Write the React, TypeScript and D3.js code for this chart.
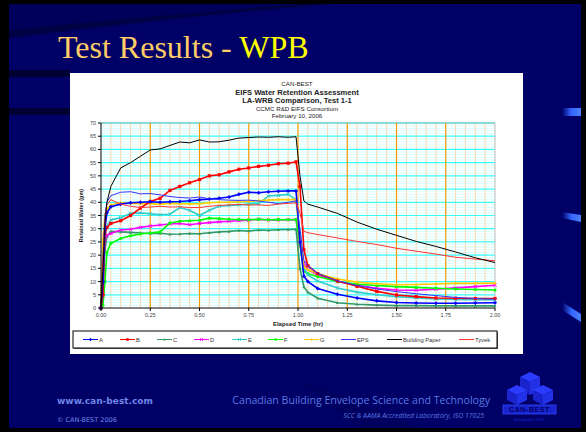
import React from "react";
import * as d3 from "d3";

const times = [0, 0.01, 0.02, 0.03, 0.05, 0.1, 0.15, 0.2, 0.25, 0.3, 0.35, 0.4, 0.45, 0.5, 0.55, 0.6, 0.65, 0.7, 0.75, 0.8, 0.85, 0.9, 0.95, 0.99, 1.01, 1.03, 1.05, 1.1, 1.2, 1.3, 1.4, 1.5, 1.6, 1.7, 1.8, 1.9, 2.0];

const seriesA = [0, 10, 30, 36, 38.3, 39.3, 39.8, 40, 40.2, 40, 40.2, 40.3, 40.6, 41, 41.2, 41.5, 42, 43, 43.8, 43.6, 44, 44.2, 44.3, 44.3, 25, 12, 10, 7.4, 5.2, 3.8, 2.7, 2.1, 1.9, 1.8, 1.8, 1.9, 2.0];
const seriesB = [0, 5, 28, 30.5, 32, 33, 35, 37.8, 40.3, 41.5, 44.5, 46, 47.4, 48.6, 50, 50.4, 51.5, 52.5, 53, 53.6, 54, 54.6, 54.8, 55.3, 46, 22, 16, 13, 10.2, 8.2, 6.3, 4.9, 4.3, 3.8, 3.7, 3.6, 3.6];
const seriesC = [0, 8, 22, 27, 29, 28.8, 28.6, 28.4, 28.2, 28.3, 27.9, 28, 28.2, 28.1, 28.5, 28.8, 29, 29.3, 29.1, 29.5, 29.4, 29.6, 29.7, 29.8, 15, 8, 6, 3.7, 2, 1.4, 1.1, 0.9, 0.9, 0.8, 0.8, 0.8, 0.8];
const seriesD = [0, 12, 26, 27.5, 28.2, 29.5, 29.8, 30.5, 31, 31.4, 31.8, 32, 31.5, 32, 32.3, 32.6, 32.8, 33, 33.2, 33.6, 33.3, 33.3, 33.4, 33.5, 24, 17, 14.5, 12.5, 10, 8.6, 7.5, 6.8, 6.7, 7.1, 7.6, 8.1, 8.6];
const seriesE = [0, 10, 28, 31, 33.3, 34.2, 35.8, 36, 35.6, 35.3, 35.5, 38, 37, 35, 37, 38.5, 38.8, 39, 39.3, 39.5, 42.4, 42.6, 43, 41, 28, 15, 12.5, 10.2, 7.6, 6, 5, 4.3, 3.8, 3.4, 3.2, 3.1, 3.0];
const seriesF = [0, 1, 10, 21, 24.5, 26.3, 27.3, 28, 28.4, 28.8, 32.2, 32.8, 33, 33.2, 34, 33.8, 33.6, 33.5, 33.4, 33.6, 33.4, 33.5, 33.4, 33.5, 24, 14, 13, 11.9, 10, 9, 8.5, 8.1, 7.8, 7.5, 7.2, 7, 6.8];
const seriesG = [0, 26, 35, 37.5, 39, 39.8, 39.6, 39.5, 39.5, 39.3, 39.6, 39.5, 39.4, 39.5, 39.8, 40, 40, 40.2, 40.3, 40.6, 40.8, 41, 41, 41, 26, 15.5, 14.5, 13, 11, 9.8, 9.2, 8.8, 8.9, 9.1, 9.3, 9.3, 9.4];
const seriesEPS = [0, 20, 35, 40, 42.5, 43.8, 44, 43.2, 43.3, 42.8, 42.2, 41.8, 41.6, 42, 41.3, 41, 40.8, 40.7, 40.8, 40.5, 40, 39.5, 40, 40.5, 30, 18, 16, 13.1, 10.3, 8.5, 7.2, 6.2, 5.4, 4.7, 4, 3.6, 3.3];
const seriesPaper = [0, 15, 32, 40, 46, 53, 55, 57.4, 59.8, 60.2, 61.5, 62.8, 62.5, 63.6, 62.8, 62.9, 63.5, 64.3, 64.5, 64.7, 64.6, 64.8, 64.6, 64.8, 50, 40.5, 39.3, 38.2, 35.8, 32.5, 29.8, 27.5, 25.2, 23.3, 21.2, 19, 17.2];
const seriesTyvek = [0, 18, 33, 39, 41, 39.3, 38.5, 38, 38.2, 38.5, 38.2, 38.3, 38, 38, 38.5, 38.8, 39, 39.2, 39, 39, 38.8, 39.3, 39.6, 39.8, 36, 29, 28.5, 27.8, 26.5, 25.2, 24, 22.6, 21.5, 20.4, 19.2, 18.5, 17.9];

const seriesNames = ["A", "B", "C", "D", "E", "F", "G", "EPS", "Building Paper", "Tyvek"];
const seriesValues = [seriesA, seriesB, seriesC, seriesD, seriesE, seriesF, seriesG, seriesEPS, seriesPaper, seriesTyvek];
const seriesColors = ["#0000ff", "#ff0000", "#339966", "#ff00ff", "#33cccc", "#00ff00", "#ffcc00", "#3333ff", "#000000", "#ff3333"];
const seriesMarkers = ["diamond", "square", "triangle", "x", "x", "circle", "plus", "none", "none", "none"];

const yTicks = d3.range(0, 71, 5);
const xTicks = [0, 0.25, 0.5, 0.75, 1.0, 1.25, 1.5, 1.75, 2.0];

const headerLines = ["CAN-BEST", "EIFS Water Retention Assessment", "LA-WRB Comparison, Test 1-1", "CCMC R&D EIFS Consortium", "February 10, 2006"];

function Marker({ type, x, y, color, s = 1.8 }: { type: string; x: number; y: number; color: string; s?: number }) {
  switch (type) {
    case "diamond":
      return <path d={`M${x},${y - s - 0.4}L${x + s + 0.4},${y}L${x},${y + s + 0.4}L${x - s - 0.4},${y}Z`} fill={color} />;
    case "square":
      return <rect x={x - s} y={y - s} width={2 * s} height={2 * s} fill={color} />;
    case "triangle":
      return <path d={`M${x},${y - s}L${x + s},${y + s * 0.8}L${x - s},${y + s * 0.8}Z`} fill={color} />;
    case "x":
      return <path d={`M${x - s},${y - s}L${x + s},${y + s}M${x - s},${y + s}L${x + s},${y - s}`} stroke={color} strokeWidth={1} />;
    case "circle":
      return <circle cx={x} cy={y} r={s} fill={color} />;
    case "plus":
      return <path d={`M${x - s},${y}L${x + s},${y}M${x},${y - s}L${x},${y + s}`} stroke={color} strokeWidth={1.1} />;
    default:
      return null;
  }
}

export default function App() {
  const W = 586, H = 432;
  const pl = 101, pr = 495, pt = 123, pb = 308;
  const x = d3.scaleLinear().domain([0, 2]).range([pl, pr]);
  const y = d3.scaleLinear().domain([0, 70]).range([pb, pt]);
  const line = d3.line<number>().x((_, i) => x(times[i])).y((d) => y(d));

  const minorY = d3.range(0, 71, 1).filter((v) => v % 5 !== 0);
  const minorX = d3.range(0, 41, 1).map((i) => i * 0.05).filter((_, i) => i % 5 !== 0);

  const legendX = [83, 120, 157, 194, 232, 268, 304, 341, 387, 459];
  const font = "'Liberation Sans', Arial, sans-serif";

  const order = [2, 3, 5, 4, 6, 1, 0, 7, 9, 8];

  return (
    <svg width={W} height={H} style={{ position: "absolute", left: 0, top: 0 }}>
      <defs>
        <linearGradient id="tab" x1="0" x2="1" y1="0" y2="0">
          <stop offset="0" stopColor="#000066" />
          <stop offset="0.5" stopColor="#3366ff" />
          <stop offset="1" stopColor="#4d7fff" />
        </linearGradient>
      </defs>
      {/* background */}
      <rect x={0} y={0} width={W} height={H} fill="#000000" />
      <rect x={9} y={4} width={572} height={424} fill="#000066" />
      <path d="M9,4 L300,4 Q150,14 9,30 Z" fill="#00005a" />
      <path d="M9,30 Q140,16 300,4 L330,4 Q170,18 9,38 Z" fill="#000044" />
      <rect x={9} y={70} width={61} height={7} fill="#000033" />
      <rect x={9} y={108} width={61} height={7} fill="#000033" />
      <path d="M300,380 L360,428 L420,428 Z" fill="#00005e" />
      {/* right tabs */}
      <path d="M562,108 L581,108 L581,116 L562,116 Z" fill="url(#tab)" />
      <path d="M562,212 L581,215 L581,222 L562,218 Z" fill="url(#tab)" />
      <path d="M562,302 L581,314 L581,322 L562,310 Z" fill="url(#tab)" />

      {/* title */}
      <text x={58} y={58} fontFamily="'Liberation Serif', 'Times New Roman', serif" fontSize={32}>
        <tspan fill="#ffcc66">Test Results - </tspan>
        <tspan fill="#ffff00">WPB</tspan>
      </text>

      {/* white chart box */}
      <rect x={70} y={73} width={453} height={281} fill="#ffffff" />

      {/* header */}
      {headerLines.map((t, i) => (
        <text
          key={t}
          x={297}
          y={[85.5, 95, 103.3, 110.7, 117.7][i]}
          textAnchor="middle"
          fontFamily={font}
          fontSize={i === 1 || i === 2 ? 7.6 : 6.2}
          fontWeight={i === 1 || i === 2 ? "bold" : "normal"}
          fill="#222"
        >
          {t}
        </text>
      ))}

      {/* grid */}
      {minorY.map((v) => (
        <line key={"my" + v} x1={pl} x2={pr} y1={y(v)} y2={y(v)} stroke="#ccffff" strokeWidth={0.8} />
      ))}
      {minorX.map((v) => (
        <line key={"mx" + v} x1={x(v)} x2={x(v)} y1={pt} y2={pb} stroke="#ffd6ad" strokeWidth={1} />
      ))}
      {yTicks.filter((v) => v > 0).map((v) => (
        <line key={"gy" + v} x1={pl} x2={pr} y1={y(v)} y2={y(v)} stroke={v === 70 ? "#66cccc" : "#33ffff"} strokeWidth={v === 70 ? 1.6 : 1.2} />
      ))}
      {xTicks.filter((v) => v > 0 && v < 2).map((v) => (
        <line key={"gx" + v} x1={x(v)} x2={x(v)} y1={pt} y2={pb} stroke="#ff9900" strokeWidth={1.2} />
      ))}
      <line x1={pr} x2={pr} y1={pt} y2={pb} stroke="#bbbbbb" strokeWidth={1} />

      {/* series */}
      {order.map((si) => {
        const vals = seriesValues[si];
        const thin = seriesMarkers[si] === "none";
        return (
          <g key={seriesNames[si]}>
            <path d={line(vals) || ""} fill="none" stroke={seriesColors[si]} strokeWidth={thin ? 1 : 1.6} />
            {!thin &&
              vals.map((v, i) => (
                <Marker key={i} type={seriesMarkers[si]} x={x(times[i])} y={y(v)} color={seriesColors[si]} s={1.6} />
              ))}
          </g>
        );
      })}

      {/* axes */}
      <line x1={pl} x2={pl} y1={pt} y2={pb} stroke="#000" strokeWidth={1} />
      <line x1={pl} x2={pr} y1={pb} y2={pb} stroke="#000" strokeWidth={1} />
      {yTicks.map((v) => (
        <g key={"yt" + v}>
          <line x1={pl - 3} x2={pl} y1={y(v)} y2={y(v)} stroke="#000" />
          <text x={pl - 5} y={y(v) + 2} textAnchor="end" fontFamily={font} fontSize={5.5} fill="#444">
            {v}
          </text>
        </g>
      ))}
      {xTicks.map((v) => (
        <g key={"xt" + v}>
          <line x1={x(v)} x2={x(v)} y1={pb} y2={pb + 3} stroke="#000" />
          <text x={x(v)} y={pb + 9} textAnchor="middle" fontFamily={font} fontSize={5.5} fill="#444">
            {v.toFixed(2)}
          </text>
        </g>
      ))}
      <text x={298} y={326} textAnchor="middle" fontFamily={font} fontSize={6} fontWeight="bold" fill="#222">
        Elapsed Time (hr)
      </text>
      <text
        transform={`translate(83,${(pt + pb) / 2}) rotate(-90)`}
        textAnchor="middle"
        fontFamily={font}
        fontSize={5.5}
        fontWeight="bold"
        fill="#222"
      >
        Retained Water (gm)
      </text>

      {/* legend */}
      <rect x={74} y={332} width={424} height={17} fill="#666" />
      <rect x={73} y={331} width={424} height={17} fill="#fff" stroke="#000" strokeWidth={1} />
      {seriesNames.map((n, i) => {
        const lx = legendX[i];
        const ly = 339.5;
        return (
          <g key={"lg" + n}>
            <line x1={lx} x2={lx + 15} y1={ly} y2={ly} stroke={seriesColors[i]} strokeWidth={1} />
            {seriesMarkers[i] !== "none" && <Marker type={seriesMarkers[i]} x={lx + 7.5} y={ly} color={seriesColors[i]} s={1.3} />}
            <text x={lx + 16} y={ly + 2} fontFamily={font} fontSize={5.8} fill="#333">
              {n}
            </text>
          </g>
        );
      })}

      {/* footer */}
      <text x={57} y={404} fontFamily="'DejaVu Sans', Verdana, sans-serif" fontSize={9} fontWeight="bold" fill="#6f86e6">
        www.can-best.com
      </text>
      <text x={57} y={422} fontFamily="'DejaVu Sans', Verdana, sans-serif" fontSize={6.5} fill="#6f86e6">
        © CAN-BEST 2006
      </text>
      <text x={490} y={404} textAnchor="end" fontFamily="'Open Sans', 'DejaVu Sans', sans-serif" fontSize={10.6} fill="#5a78e0">
        Canadian Building Envelope Science and Technology
      </text>
      <text x={484} y={418} textAnchor="end" fontFamily="'Open Sans', 'DejaVu Sans', sans-serif" fontSize={6.9} fontStyle="italic" fill="#5a78e0">
        SCC &amp; AAMA Accredited Laboratory, ISO 17025
      </text>

      {/* logo */}
      <g>
        <path d="M520,377 L530,372 L540,377 L530,382 Z" fill="#2b3bff" />
        <path d="M520,377 L530,382 L530,395 L520,390 Z" fill="#1a24cc" />
        <path d="M540,377 L530,382 L530,395 L540,390 Z" fill="#2230e6" />
        <path d="M507,390 L517,385 L527,390 L517,395 Z" fill="#2b3bff" />
        <path d="M507,390 L517,395 L517,405 L507,400 Z" fill="#1a24cc" />
        <path d="M527,390 L517,395 L517,405 L527,400 Z" fill="#2230e6" />
        <path d="M533,390 L543,385 L553,390 L543,395 Z" fill="#2b3bff" />
        <path d="M533,390 L543,395 L543,405 L533,400 Z" fill="#1a24cc" />
        <path d="M553,390 L543,395 L543,405 L553,400 Z" fill="#2230e6" />
        <rect x={503} y={405} width={53} height={9} fill="#1a24cc" stroke="#3344ff" strokeWidth={0.8} />
        <text x={529.5} y={412.3} textAnchor="middle" fontFamily={font} fontSize={7} fontWeight="bold" fill="#000066" letterSpacing={0.6}>
          CAN-BEST
        </text>
        <text x={529.5} y={421} textAnchor="middle" fontFamily={font} fontSize={4} fill="#1a24cc">
          Established 1985
        </text>
      </g>
    </svg>
  );
}
